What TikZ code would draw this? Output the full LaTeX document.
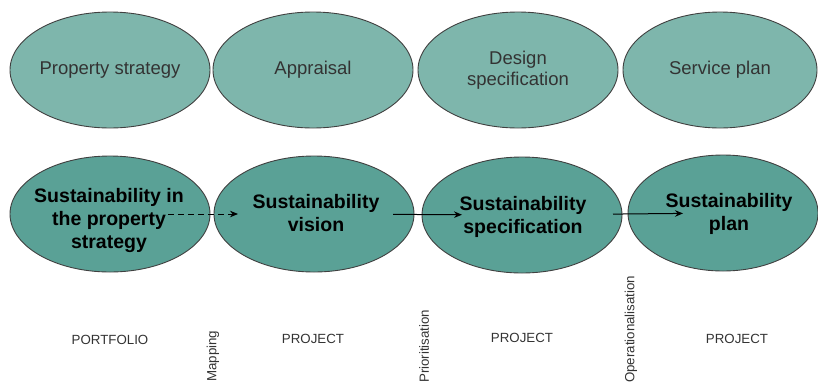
\documentclass[tikz,border=0pt]{standalone}
\usepackage{fontspec}
\setmainfont{Liberation Sans}
\usetikzlibrary{arrows.meta,shapes.geometric}
\definecolor{paleteal}{RGB}{126,182,172}
\definecolor{deepteal}{RGB}{90,161,150}
\definecolor{rim}{RGB}{64,64,64}
\definecolor{ink}{RGB}{51,51,51}

\tikzset{
  stage/.style={ellipse,draw=rim,line width=0.9pt,fill=paleteal,inner sep=0pt,
    minimum width=200,minimum height=116,align=center,text=ink,
    font=\fontsize{18.5}{21}\selectfont},
  goal/.style={stage,fill=deepteal},
  goal text/.style={align=center,inner sep=0pt,text=black,
    font=\fontsize{19.5}{23}\selectfont\bfseries},
  level/.style={text=ink,font=\fontsize{13.3}{16}\selectfont},
  step label/.style={level,rotate=90,anchor=west,inner sep=0pt},
  flow/.style={line width=1pt,-{Stealth[length=8pt,width=6.5pt]}}
}

\begin{document}
\begin{tikzpicture}[x=1pt,y=-1pt]
        \useasboundingbox (0,0) rectangle (818,383);
        \node[stage] (prop) at (110,70) {Property strategy};
        \node[stage] (appr) at (313,70) {Appraisal};
        \node[stage] (design) at (518,70) {Design\\specification};
        \node[stage,minimum width=194] (service) at (720,70) {Service plan};
        \node[goal] (susprop) at (110,214) {};
        \node[goal] (susvis) at (314,214) {};
        \node[goal] (susspec) at (522,215) {};
        \node[goal,minimum width=190] (susplan) at (723,213) {};
        \node[goal text] (propname) at (109,220) {Sustainability in\\the property\\strategy};
        \node[goal text] (visname) at (316,213) {Sustainability\\vision};
        \node[goal text] (specname) at (523,217) {Sustainability\\specification};
        \node[goal text] (planname) at (729,214) {Sustainability\\plan};
        \draw[flow,dash pattern=on 6pt off 4pt,shorten <=58pt,shorten >=76pt] (susprop.center) -- (susvis.center);
        \draw[flow,shorten <=79pt,shorten >=60pt] (susvis.center) -- (susspec.center);
        \draw[flow,shorten <=91pt,shorten >=40pt] (susspec.center) -- (susplan.center);
        \node[level] (portfolio) at (110,340) {PORTFOLIO};
        \node[level] (project1) at (313,339) {PROJECT};
        \node[level] (project2) at (522,338) {PROJECT};
        \node[level] (project3) at (737,339) {PROJECT};
        \node[step label] (mapping) at (213,382) {Mapping};
        \node[step label] (priority) at (424,383) {Prioritisation};
        \node[step label] (operate) at (631,383) {Operationalisation};
      \end{tikzpicture}
\end{document}
